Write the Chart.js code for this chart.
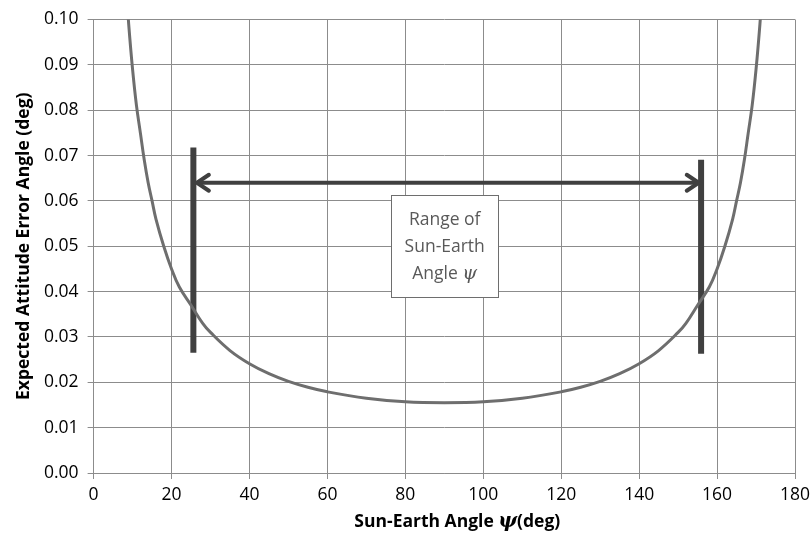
<!DOCTYPE html>
<html>
<head>
<meta charset="utf-8">
<script src="https://cdn.jsdelivr.net/npm/chart.js@4"></script>
<style>
  html, body { margin: 0; padding: 0; background: #fff; }
  #wrap { width: 812px; height: 540px; }
</style>
</head>
<body>
<div id="wrap"><canvas id="chart" width="812" height="540"></canvas></div>
<script>
// Sun-Earth angle (deg) and expected attitude error (deg)
const sunEarthAngle = [8, 9, 10, 11, 12, 13, 14, 15, 16, 18, 20, 22, 25, 28, 30, 35, 40, 45, 50, 55, 60, 70, 80, 90,
  100, 110, 120, 125, 130, 135, 140, 145, 150, 152, 155, 158, 160, 162, 164, 165, 166, 167, 168, 169, 170, 171, 172];
const attitudeError = [0.111, 0.099, 0.089, 0.081, 0.075, 0.069, 0.064, 0.060, 0.056, 0.050, 0.045, 0.041, 0.037,
  0.033, 0.031, 0.027, 0.0241, 0.0219, 0.0202, 0.0189, 0.0179, 0.0165, 0.0157, 0.0155,
  0.0157, 0.0165, 0.0179, 0.0189, 0.0202, 0.0219, 0.0241, 0.027, 0.031, 0.033, 0.037, 0.041, 0.045, 0.050, 0.056,
  0.060, 0.064, 0.069, 0.075, 0.081, 0.089, 0.099, 0.111];

// range markers: [x, yBottom, yTop]
const leftMarker = [25.6, 0.0265, 0.0718];
const rightMarker = [155.9, 0.0263, 0.0691];
// arrow: [xStart, xEnd, y]
const rangeArrow = [26.5, 155.3, 0.0640];
// text box: [xLeft, xRight, yTop, yBottom]
const boxExtent = [76.4, 103.8, 0.0612, 0.0388];
const boxLines = ['Range of', 'Sun-Earth', 'Angle '];

const xTicks = [0, 20, 40, 60, 80, 100, 120, 140, 160, 180];
const yTicks = [0, 0.01, 0.02, 0.03, 0.04, 0.05, 0.06, 0.07, 0.08, 0.09, 0.10];

const curve = sunEarthAngle.map((x, i) => ({ x: x, y: attitudeError[i] }));
const FONT = '"Open Sans", sans-serif';
const INK = '#404040';

// arrowheads, text box and italic psi in the x title
const annotate = {
  id: 'annotate',
  afterDatasetsDraw(chart) {
    const { ctx, scales: { x, y } } = chart;
    ctx.save();
    // arrowheads
    const ay = y.getPixelForValue(rangeArrow[2]);
    const ax0 = x.getPixelForValue(rangeArrow[0]);
    const ax1 = x.getPixelForValue(rangeArrow[1]);
    ctx.strokeStyle = INK;
    ctx.lineWidth = 4;
    ctx.lineCap = 'round';
    ctx.beginPath();
    ctx.moveTo(ax0 + 12, ay - 8); ctx.lineTo(ax0, ay); ctx.lineTo(ax0 + 12, ay + 8);
    ctx.moveTo(ax1 - 12, ay - 8); ctx.lineTo(ax1, ay); ctx.lineTo(ax1 - 12, ay + 8);
    ctx.stroke();

    // text box
    const bx0 = x.getPixelForValue(boxExtent[0]);
    const bx1 = x.getPixelForValue(boxExtent[1]);
    const by0 = y.getPixelForValue(boxExtent[2]);
    const by1 = y.getPixelForValue(boxExtent[3]);
    ctx.fillStyle = '#fff';
    ctx.fillRect(bx0, by0, bx1 - bx0, by1 - by0);
    ctx.strokeStyle = '#6e6e6e';
    ctx.lineWidth = 1;
    ctx.strokeRect(Math.round(bx0) + 0.5, Math.round(by0) + 0.5, Math.round(bx1 - bx0), Math.round(by1 - by0));
    ctx.fillStyle = '#595959';
    ctx.textBaseline = 'middle';
    const boxFont = '17.5px ' + FONT;
    const psiFont = 'italic 19px "DejaVu Serif", serif';
    const cx = (bx0 + bx1) / 2;
    const lineH = 27;
    const top = (by0 + by1) / 2 - lineH + 1;
    boxLines.forEach((t, i) => {
      ctx.font = boxFont;
      if (i < 2) {
        ctx.textAlign = 'center';
        ctx.fillText(t, cx, top + i * lineH);
      } else {
        const w1 = ctx.measureText(t).width;
        ctx.font = psiFont;
        const w2 = ctx.measureText('ψ').width;
        const sx = cx - (w1 + w2) / 2;
        ctx.textAlign = 'left';
        ctx.font = boxFont;
        ctx.fillText(t, sx, top + i * lineH);
        ctx.font = psiFont;
        ctx.fillText('ψ', sx + w1, top + i * lineH);
      }
    });

    // x axis title with italic psi
    ctx.fillStyle = '#000';
    ctx.textAlign = 'left';
    const parts = [['bold 17.5px ' + FONT, 'Sun-Earth Angle '], ['bold italic 20px "DejaVu Serif", serif', 'ψ'], ['bold 17.5px ' + FONT, '(deg)']];
    let total = 0;
    parts.forEach(p => { ctx.font = p[0]; total += ctx.measureText(p[1]).width; });
    let tx = (x.left + x.right) / 2 + 13 - total / 2;
    parts.forEach(p => { ctx.font = p[0]; ctx.fillText(p[1], tx, 522); tx += ctx.measureText(p[1]).width; });
    ctx.restore();
  }
};

new Chart(document.getElementById('chart'), {
  type: 'scatter',
  data: {
    datasets: [
      {
        data: curve,
        showLine: true,
        borderColor: '#6e6e6e',
        borderWidth: 3,
        pointRadius: 0,
        tension: 0.4
      },
      {
        data: [{ x: leftMarker[0], y: leftMarker[1] }, { x: leftMarker[0], y: leftMarker[2] }],
        showLine: true, borderColor: INK, borderWidth: 6, pointRadius: 0
      },
      {
        data: [{ x: rightMarker[0], y: rightMarker[1] }, { x: rightMarker[0], y: rightMarker[2] }],
        showLine: true, borderColor: INK, borderWidth: 6, pointRadius: 0
      },
      {
        data: [{ x: rangeArrow[0], y: rangeArrow[2] }, { x: rangeArrow[1], y: rangeArrow[2] }],
        showLine: true, borderColor: INK, borderWidth: 4, pointRadius: 0
      }
    ]
  },
  options: {
    responsive: false,
    animation: false,
    events: [],
    layout: { padding: { left: 14, right: 0, top: 3, bottom: 28 } },
    plugins: { legend: { display: false }, tooltip: { enabled: false } },
    scales: {
      x: {
        type: 'linear',
        min: 0, max: 180,
        afterBuildTicks: axis => { axis.ticks = xTicks.map(v => ({ value: v })); },
        afterFit: axis => { axis.paddingRight = 17; },
        grid: { color: '#8c8c8c', lineWidth: 1, tickLength: 6 },
        border: { color: '#8c8c8c' },
        ticks: { color: '#000', font: { family: FONT, size: 17.5 }, padding: 6, maxRotation: 0 }
      },
      y: {
        min: 0, max: 0.10,
        afterBuildTicks: axis => { axis.ticks = yTicks.map(v => ({ value: v })); },
        grid: { color: '#8c8c8c', lineWidth: 1, tickLength: 6 },
        border: { color: '#8c8c8c' },
        ticks: { color: '#000', font: { family: FONT, size: 17.5 }, padding: 9, callback: v => v.toFixed(2) },
        title: {
          display: true,
          text: 'Expected Attitude Error Angle (deg)',
          color: '#000',
          font: { family: FONT, size: 17.5, weight: 'bold' },
          padding: { top: 0, bottom: 0 }
        }
      }
    }
  },
  plugins: [annotate]
});
</script>
</body>
</html>
